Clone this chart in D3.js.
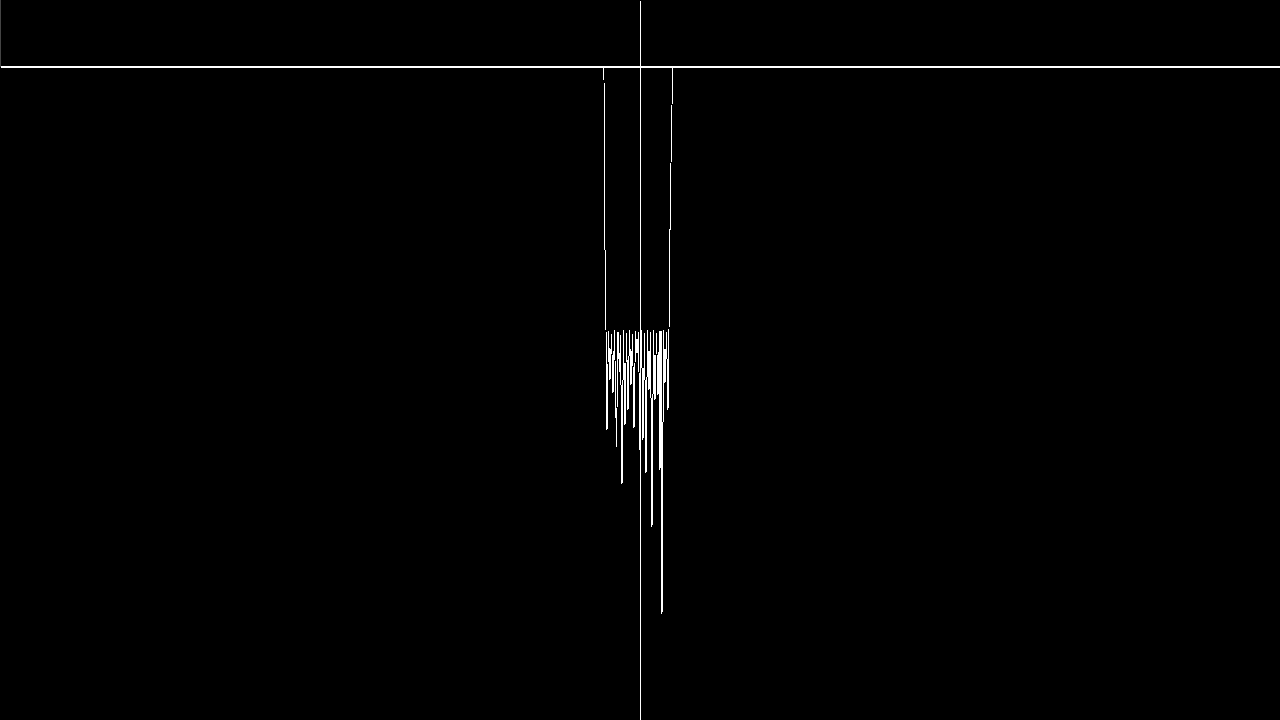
<!DOCTYPE html>
<html>
<head>
<meta charset="utf-8">
<script src="https://cdn.jsdelivr.net/npm/d3@7"></script>
<style>
html,body{margin:0;padding:0;background:#000;overflow:hidden;}
svg{display:block;}
</style>
</head>
<body>
<svg id="chart" width="1280" height="720"></svg>
<script>
// Series: x values (horizontal offset from origin) and y values (depth below zero)
const xValues = [
  -37, -36, -35, -34, -33,
  -31.5, -30, -28.5, -27, -25.5, -23.5, -22, -20.5, -19.5, -18, -16.5, -15, -13.5, -12,
  -10.5, -9, -7.5, -6, -4.5, -3, -1.5, 0, 1.5, 3, 4.5, 6, 7.5, 9, 10.5, 12, 13.5, 15,
  16.5, 18, 19.5, 20, 21, 22, 23.5, 25, 26.5, 28, 29,
  30, 31.5, 32.5, 33
];
const yValues = [
  0, -13, -183, -263, -363,
  -264, -313, -267, -326, -263, -380, -265, -305, -268, -417, -263, -358, -266, -343,
  -263, -318, -267, -361, -264, -286, -265, -383, -263, -373, -266, -406, -263, -323, -265, -460, -263, -333,
  -266, -328, -264, -403, -264, -547, -263, -316, -265, -343, -263,
  -163, -63, -13, 0
];

const W = 1280, H = 720;
const svg = d3.select("#chart");
svg.append("rect").attr("width", W).attr("height", H).attr("fill", "#000");

const x = d3.scaleLinear().domain([-640, 640]).range([0, W]);
const y = d3.scaleLinear().domain([0, -653]).range([67, H]);

// top frame edge
svg.append("line").attr("x1", 0.5).attr("x2", 0.5).attr("y1", 0).attr("y2", 67)
  .attr("stroke", "#444").attr("stroke-width", 1);

// axes through origin
const xAxis = d3.axisBottom(x).tickValues([]).tickSizeOuter(0);
svg.append("g").attr("transform", `translate(0,${y(0) - 1})`).call(xAxis)
  .call(g => g.select(".domain").attr("stroke", "#fff").attr("stroke-width", 2)
    .attr("shape-rendering", "crispEdges"));
const yFull = d3.scaleLinear().domain([67, -653]).range([0, H]);
const yAxis = d3.axisLeft(yFull).tickValues([]).tickSizeOuter(0);
svg.append("g").attr("transform", `translate(${x(0)},0)`).call(yAxis)
  .call(g => g.select(".domain").attr("stroke", "#fff").attr("stroke-width", 1)
    .attr("shape-rendering", "crispEdges"));

const data = xValues.map((v, i) => ({ x: v, y: yValues[i] }));
const line = d3.line().x(d => x(d.x)).y(d => y(d.y));
svg.append("path").datum(data).attr("d", line)
  .attr("fill", "none").attr("stroke", "#fff").attr("stroke-width", 1)
  .attr("shape-rendering", "crispEdges");
</script>
</body>
</html>
